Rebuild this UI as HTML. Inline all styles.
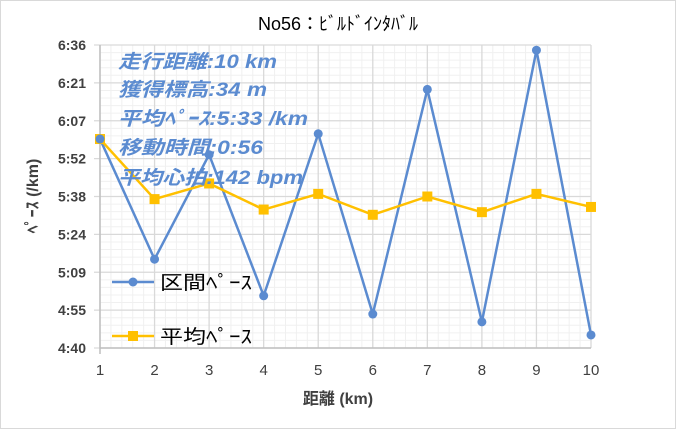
<!DOCTYPE html>
<html><head><meta charset="utf-8"><style>
html,body{margin:0;padding:0;background:#fff;}
svg{display:block;font-family:"Liberation Sans","Noto Sans CJK JP",sans-serif;}
</style></head><body>
<svg id="chart" width="676" height="429" viewBox="0 0 676 429">
<rect x="0.5" y="0.5" width="675" height="428" fill="#fff" stroke="#d9d9d9"/>
<text x="338" y="30" text-anchor="middle" font-size="18" fill="#000">No56：ﾋﾞﾙﾄﾞｲﾝﾀﾊﾞﾙ</text>
<g id="grid"></g>
<g id="axes"></g>
<g id="series"></g>
<g font-size="19" font-style="italic" font-weight="bold" fill="#5b8bd0">
<text x="118" y="68" textLength="159" lengthAdjust="spacingAndGlyphs">走行距離:10 km</text>
<text x="118" y="96" textLength="149" lengthAdjust="spacingAndGlyphs">獲得標高:34 m</text>
<text x="118" y="125" textLength="190" lengthAdjust="spacingAndGlyphs">平均ﾍﾟｰｽ:5:33 /km</text>
<text x="118" y="154" textLength="145" lengthAdjust="spacingAndGlyphs">移動時間:0:56</text>
<text x="118" y="184" textLength="185" lengthAdjust="spacingAndGlyphs">平均心拍:142 bpm</text>
</g>
<g>
<g>
<line x1="112" y1="282" x2="154" y2="282" stroke="#5b8bd0" stroke-width="2.5"/>
<circle cx="133" cy="282" r="4.5" fill="#5b8bd0"/>
<text x="160" y="289" font-size="19" fill="#000" textLength="92" lengthAdjust="spacingAndGlyphs">区間ﾍﾟｰｽ</text>
</g>
<g>
<line x1="112" y1="336" x2="154" y2="336" stroke="#ffc000" stroke-width="2.5"/>
<rect x="128" y="331" width="10" height="10" fill="#ffc000"/>
<text x="160" y="343" font-size="19" fill="#000" textLength="92" lengthAdjust="spacingAndGlyphs">平均ﾍﾟｰｽ</text>
</g>
</g>
<text x="338" y="404" text-anchor="middle" font-size="16" font-weight="bold" fill="#404040">距離 (km)</text>
<text transform="translate(38,196) rotate(-90)" text-anchor="middle" font-size="16" font-weight="bold" fill="#404040">ﾍﾟｰｽ (/km)</text>
</svg>
<script>
const categories = [1,2,3,4,5,6,7,8,9,10];
const intervalPace = [360,314,354,300,362,293,379,290,394,285];
const averagePace = [360,337,343,333,339,331,338,332,339,334];
const yTickValues = [280,294.5,309,323.5,338,352.5,367,381.5,396];
const yTickLabels = ["4:40","4:55","5:09","5:24","5:38","5:52","6:07","6:21","6:36"];

const NS="http://www.w3.org/2000/svg";
const X0=100,X1=591,Y0=348,Y1=45,YMIN=280,YMAX=396;
function xs(v){return X0+(v-1)*(X1-X0)/9;}
function ys(v){return Y0-(v-YMIN)*(Y0-Y1)/(YMAX-YMIN);}
function mk(tag,attrs,parent){const e=document.createElementNS(NS,tag);for(const k in attrs)e.setAttribute(k,attrs[k]);parent.appendChild(e);return e;}
const grid=document.getElementById('grid'),axes=document.getElementById('axes'),ser=document.getElementById('series');
for(let i=0;i<=45;i++){const x=X0+i*(X1-X0)/45;if(i%5)mk('line',{x1:x,x2:x,y1:Y1,y2:Y0,stroke:'#f0f0f0','stroke-width':1},grid);}
for(let i=0;i<=40;i++){const y=Y0-i*(Y0-Y1)/40;if(i%5)mk('line',{x1:X0,x2:X1,y1:y,y2:y,stroke:'#f0f0f0','stroke-width':1},grid);}
categories.forEach(c=>{const l=mk('line',{x1:xs(c),x2:xs(c),y1:Y1,y2:Y0,stroke:'#d9d9d9','stroke-width':1.3},grid);


const t=mk('text',{x:xs(c),y:Y0+27,'text-anchor':'middle','font-size':15,fill:'#404040'},axes);t.textContent=c;

});
yTickValues.forEach((v,i)=>{const y=ys(v);const l=mk('line',{x1:X0-6,x2:X1,y1:y,y2:y,stroke:'#d9d9d9','stroke-width':1.3},grid);


const t=mk('text',{x:86,y:y+5,'text-anchor':'end','font-size':14,'font-weight':'bold',fill:'#404040'},axes);t.textContent=yTickLabels[i];

});
mk('line',{x1:X0,x2:X1,y1:Y0,y2:Y0,stroke:'#bfbfbf','stroke-width':1.5},axes);
mk('line',{x1:X0,x2:X0,y1:Y1,y2:Y0+6,stroke:'#bfbfbf','stroke-width':1.5},axes);
const p1=mk('polyline',{points:categories.map((c,i)=>xs(c)+','+ys(intervalPace[i])).join(' '),fill:'none',stroke:'#5b8bd0','stroke-width':2.5},ser);


const p2=mk('polyline',{points:categories.map((c,i)=>xs(c)+','+ys(averagePace[i])).join(' '),fill:'none',stroke:'#ffc000','stroke-width':2.5},ser);


categories.forEach((c,i)=>{
const r=mk('rect',{x:xs(c)-5,y:ys(averagePace[i])-5,width:10,height:10,fill:'#ffc000'},ser);


const ci=mk('circle',{cx:xs(c),cy:ys(intervalPace[i]),r:4.5,fill:'#5b8bd0'},ser);


});
</script>
</body></html>
